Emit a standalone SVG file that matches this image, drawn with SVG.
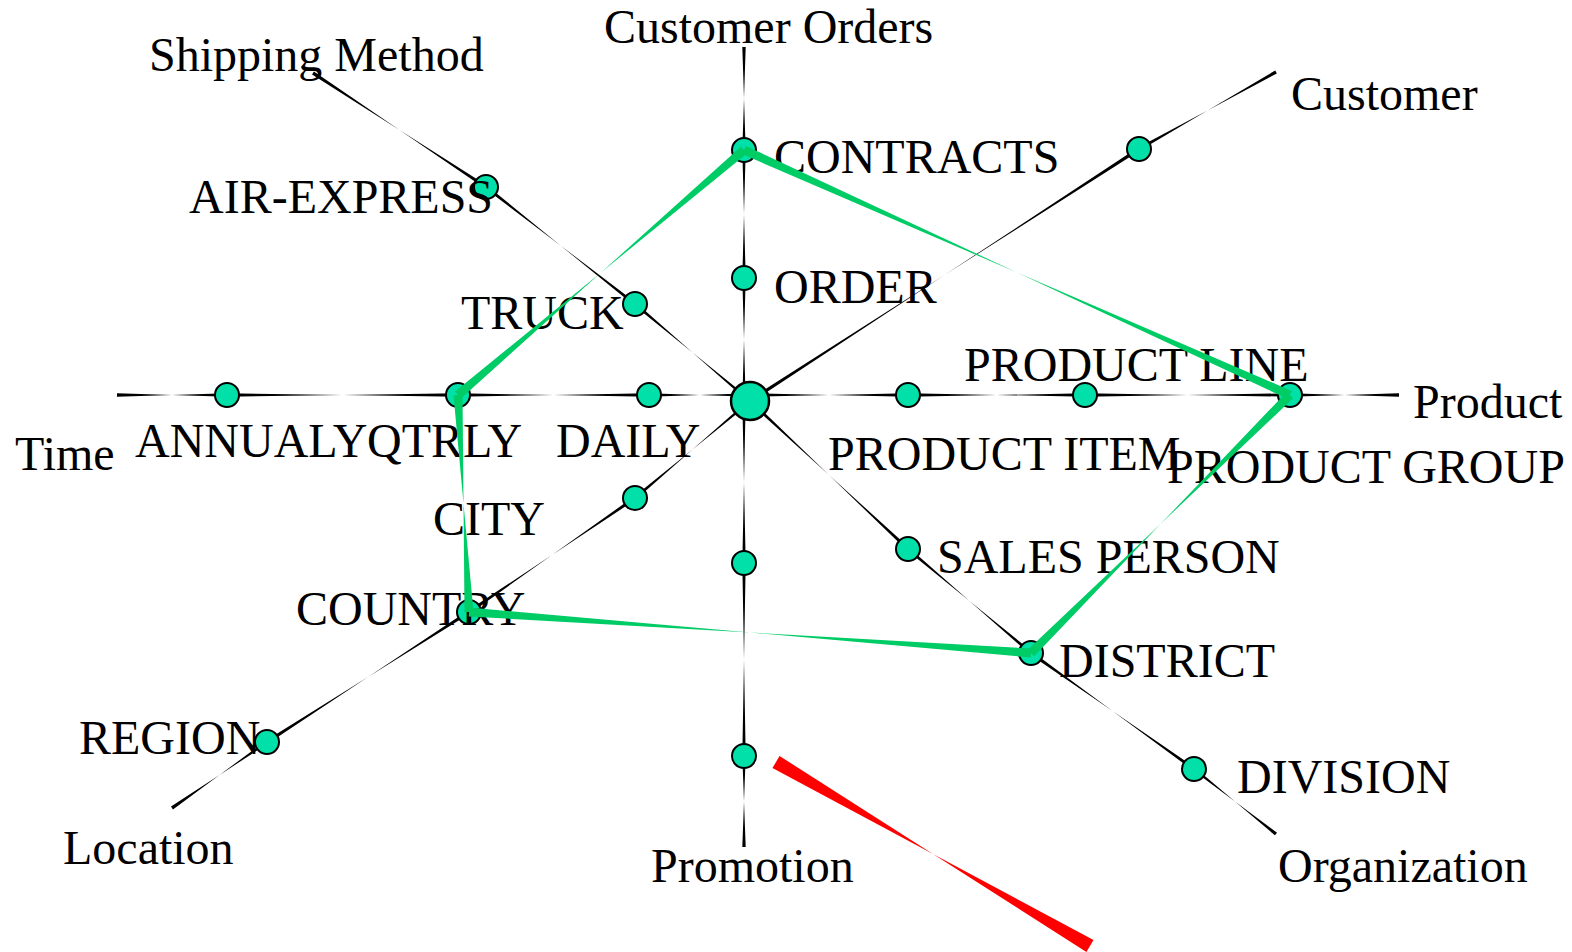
<svg xmlns="http://www.w3.org/2000/svg" xmlns:xlink="http://www.w3.org/1999/xlink" width="1572" height="952" viewBox="0 0 1572 952">
<style>
text{font-family:"Liberation Serif","Times New Roman",serif;font-size:48px;fill:#000}
.n{fill:#00E0A8;stroke:#000;stroke-width:2}
.c{fill:#00E0A8;stroke:#000;stroke-width:2.5}
.k{fill:#000}
.g{fill:#00CC66}
.r{fill:#FF0000}
</style>
<defs>
<polygon id="bt" points="0,-1.7 0.5,0 1,-1.7 1,1.7 0.5,0 0,1.7"/>
<polygon id="gt" points="0,-4.5 0.5,0 1,-4.5 1,4.5 0.5,0 0,4.5"/>
<polygon id="rt" points="0,-7 0.5,0 1,-7 1,7 0.5,0 0,7"/>
</defs>
<rect width="1572" height="952" fill="#fff"/>
<g id="connectors" class="k">
<use href="#bt" transform="translate(744 47) rotate(90) scale(103 1)"/>
<use href="#bt" transform="translate(744 150) rotate(90) scale(128 1)"/>
<use href="#bt" transform="translate(744 278) rotate(90) scale(123 1)"/>
<use href="#bt" transform="translate(744 401) rotate(90) scale(162 1)"/>
<use href="#bt" transform="translate(744 563) rotate(90) scale(193 1)"/>
<use href="#bt" transform="translate(744 756) rotate(90) scale(91 1)"/>
<use href="#bt" transform="translate(117 395) scale(110 1)"/>
<use href="#bt" transform="translate(227 395) scale(231 1)"/>
<use href="#bt" transform="translate(458 395) scale(191 1)"/>
<use href="#bt" transform="translate(649 395) scale(101 1)"/>
<use href="#bt" transform="translate(750 395) scale(158 1)"/>
<use href="#bt" transform="translate(908 395) scale(177 1)"/>
<use href="#bt" transform="translate(1085 395) scale(205 1)"/>
<use href="#bt" transform="translate(1290 395) scale(109 1)"/>
<use href="#bt" transform="translate(750 401) rotate(-32.93) scale(463.5 1)"/>
<use href="#bt" transform="translate(1139 149) rotate(-29.34) scale(157.2 1)"/>
<use href="#bt" transform="translate(313 73) rotate(33.38) scale(207.2 1)"/>
<use href="#bt" transform="translate(486 187) rotate(38.14) scale(189.4 1)"/>
<use href="#bt" transform="translate(635 304) rotate(40.15) scale(150.4 1)"/>
<use href="#bt" transform="translate(750 401) rotate(139.85) scale(150.4 1)"/>
<use href="#bt" transform="translate(635 498) rotate(145.52) scale(201.4 1)"/>
<use href="#bt" transform="translate(469 612) rotate(147.23) scale(240.2 1)"/>
<use href="#bt" transform="translate(267 742) rotate(145.21) scale(115.7 1)"/>
<use href="#bt" transform="translate(750 401) rotate(43.13) scale(216.5 1)"/>
<use href="#bt" transform="translate(908 549) rotate(40.22) scale(161.1 1)"/>
<use href="#bt" transform="translate(1031 653) rotate(35.44) scale(200.1 1)"/>
<use href="#bt" transform="translate(1194 769) rotate(38.40) scale(104.6 1)"/>
</g>
<g id="center"><circle class="c" cx="750" cy="401" r="19"/></g>
<g id="contracts"><circle class="n" cx="744" cy="150" r="12"/><text x="774" y="173">CONTRACTS</text></g>
<g id="order"><circle class="n" cx="744" cy="278" r="12"/><text x="774" y="303">ORDER</text></g>
<g id="customer-node"><circle class="n" cx="1139" cy="149" r="12"/></g>
<g id="air-express"><circle class="n" cx="486" cy="187" r="12"/><text x="189" y="213">AIR-EXPRESS</text></g>
<g id="truck"><circle class="n" cx="635" cy="304" r="12"/><text x="461" y="329">TRUCK</text></g>
<g id="annualy"><circle class="n" cx="227" cy="395" r="12"/><text x="135" y="457">ANNUALY</text></g>
<g id="qtrly"><circle class="n" cx="458" cy="395" r="12"/><text x="367" y="457">QTRLY</text></g>
<g id="daily"><circle class="n" cx="649" cy="395" r="12"/><text x="556" y="457">DAILY</text></g>
<g id="product-item"><circle class="n" cx="908" cy="395" r="12"/><text x="828" y="470">PRODUCT ITEM</text></g>
<g id="product-line"><circle class="n" cx="1085" cy="395" r="12"/><text x="964" y="381">PRODUCT LINE</text></g>
<g id="product-group"><circle class="n" cx="1290" cy="395" r="12"/><text x="1167" y="483">PRODUCT GROUP</text></g>
<g id="city"><circle class="n" cx="635" cy="498" r="12"/><text x="433" y="535">CITY</text></g>
<g id="country"><circle class="n" cx="469" cy="612" r="12"/><text x="296" y="625">COUNTRY</text></g>
<g id="region"><circle class="n" cx="267" cy="742" r="12"/><text x="79" y="754">REGION</text></g>
<g id="sales-person"><circle class="n" cx="908" cy="549" r="12"/><text x="937" y="573">SALES PERSON</text></g>
<g id="district"><circle class="n" cx="1031" cy="653" r="12"/><text x="1059" y="677">DISTRICT</text></g>
<g id="division"><circle class="n" cx="1194" cy="769" r="12"/><text x="1237" y="793">DIVISION</text></g>
<g id="promo-1"><circle class="n" cx="744" cy="563" r="12"/></g>
<g id="promo-2"><circle class="n" cx="744" cy="756" r="12"/></g>
<g id="axis-labels">
<text x="604" y="43">Customer Orders</text>
<text x="149" y="71">Shipping Method</text>
<text x="1291" y="110">Customer</text>
<text x="15" y="470">Time</text>
<text x="1413" y="418">Product</text>
<text x="63" y="864">Location</text>
<text x="651" y="882">Promotion</text>
<text x="1278" y="882">Organization</text>
</g>
<g id="query-path" class="g">
<use href="#gt" transform="translate(744 150) rotate(24.17) scale(598.4 1)"/>
<use href="#gt" transform="translate(1290 395) rotate(135.11) scale(365.6 1)"/>
<use href="#gt" transform="translate(1031 653) rotate(184.17) scale(563.5 1)"/>
<use href="#gt" transform="translate(469 612) rotate(267.10) scale(217.3 1)"/>
<use href="#gt" transform="translate(458 395) rotate(-40.58) scale(376.6 1)"/>
</g>
<g id="red-mark" class="r">
<use href="#rt" transform="translate(776 762) rotate(30.37) scale(363.9 1)"/>
</g>
</svg>
